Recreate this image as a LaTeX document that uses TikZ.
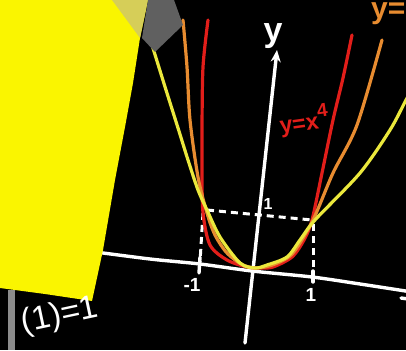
\documentclass[tikz,border=0pt]{standalone}
\usepackage{fontspec}
\setmainfont{Liberation Sans}
\usetikzlibrary{arrows.meta}
\definecolor{bgyellow}{RGB}{250,245,0}
\definecolor{paleyel}{RGB}{214,206,88}
\definecolor{quadgray}{RGB}{96,96,96}
\definecolor{stripgray}{RGB}{140,140,140}
\definecolor{cyel}{RGB}{235,232,60}
\definecolor{corange}{RGB}{232,140,48}
\definecolor{cred}{RGB}{226,30,26}
\begin{document}
\begin{tikzpicture}[x=1pt,y=-1pt,
  axisline/.style={white,line width=3.4pt,line cap=round},
  curve/.style={line width=3.2pt,line cap=round,line join=round},
  dashline/.style={white,line width=3pt,dash pattern=on 7pt off 5pt},
  ticklbl/.style={white,inner sep=0pt,font=\bfseries\fontsize{19}{19}\selectfont},
  hand/.style={inner sep=0pt}]
\useasboundingbox (0,0) rectangle (406,350);
\clip (0,0) rectangle (406,350);
\fill[black] (0,0) rectangle (406,350);

% axes
\coordinate (yb) at (245,343);
\coordinate (yt) at (277,50);
\draw[axisline,-{Stealth[length=12pt,width=10pt]}] (yb) -- (yt);
\draw[axisline] plot[smooth] coordinates {(88,251) (150,259) (200,264) (252,271) (312,277) (360,284) (412,292)};
\draw[axisline] (401,298) -- (408,299);
% ticks
\draw[axisline] (200,257) -- (199,273);
\draw[axisline] (313,271) -- (313,282);

% dashed guides
\draw[dashline] (207,210) -- (312,220);
\draw[dashline] (203,213) -- (200,262);
\draw[dashline] (313,224) -- (313,272);

% curves
\draw[curve,cred] plot[smooth,tension=0.5] coordinates {(208,20) (203,67) (202,128) (202,170) (203,213) (210,245) (227,260) (247,267) (260,268) (273,267) (292,257) (304,240) (312,220) (322,173) (333,120) (343,78) (352,35)};
\draw[curve,corange] plot[smooth,tension=0.5] coordinates {(183,20) (187,67) (190,120) (198,177) (207,213) (215,235) (227,253) (243,265) (258,268) (275,264) (293,253) (313,220) (333,173) (357,125) (382,40)};
\draw[curve,cyel] plot[smooth,tension=0.5] coordinates {(152,45) (166,90) (178,128) (188,160) (198,190) (207,210) (220,237) (240,263) (255,268) (267,265) (287,257) (300,240) (315,220) (360,173) (390,130) (406,100) (414,86)};

% labels
\node[hand,white,font=\bfseries\fontsize{34}{34}\selectfont] (ylbl) at (273,36) {y};
\node[hand,cred,rotate=8,font=\bfseries\fontsize{23}{23}\selectfont] (fourlbl) at (304,121) {y=x\raisebox{0.9ex}{\fontsize{19}{19}\selectfont 4}};
\node[hand,corange,anchor=west,font=\bfseries\fontsize{30}{30}\selectfont] (sixlbl) at (371,14) {y=};
\node[ticklbl,font=\bfseries\fontsize{16}{16}\selectfont] (oney) at (268,204) {1};
\node[ticklbl] (mone) at (192,285) {-1};
\node[ticklbl] (onex) at (311,295) {1};

% overlays: sticky note and shapes
\fill[bgyellow] (0,0) -- (148,0) -- (140,38) -- (133,83) -- (125,127) -- (115,180) -- (103,250) -- (92,301) -- (45,294) -- (0,288) -- cycle;
\fill[paleyel] (112,0) -- (148,0) -- (140,38) -- cycle;
\fill[quadgray] (148,0) -- (174,0) -- (183,25) -- (155,52) -- (142,38) -- cycle;
\fill[stripgray] (8,290) rectangle (15,350);

\node[hand,white,rotate=12,font=\fontsize{33}{33}\selectfont] (fone) at (60,316) {(1)=1};
\end{tikzpicture}
\end{document}
